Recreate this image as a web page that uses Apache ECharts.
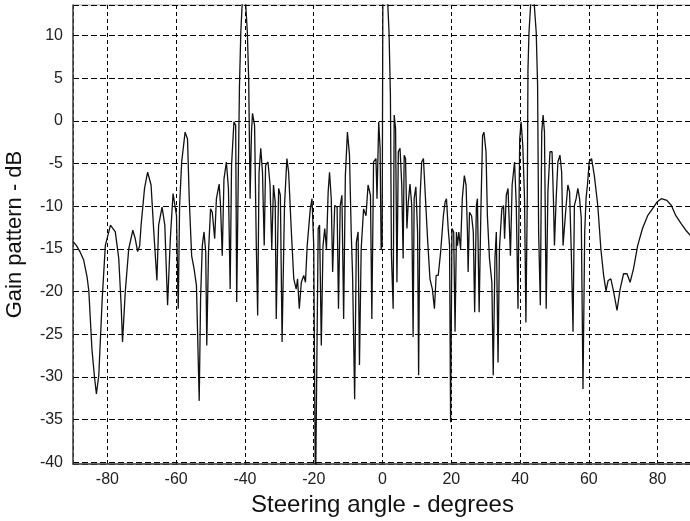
<!DOCTYPE html>
<html>
<head>
<meta charset="utf-8">
<script src="https://cdn.jsdelivr.net/npm/echarts@6/dist/echarts.min.js"></script>
<style>
  html, body { margin: 0; padding: 0; background: #fff; }
  #chart { width: 690px; height: 521px; }
</style>
</head>
<body>
<div id="chart"></div>
<script>
  // steering angle (degrees) and gain (dB)
  const angles = [
    -90, -89, -88, -86.9, -85.9, -85.4, -84.5, -83.8, -83.2, -82.5, -81.5, -80.6,
    -79.1, -77.7, -76.7, -76.0, -75.6, -74.8, -73.8, -72.6, -71.9, -71.2,
    -70.6, -70.2, -69.2, -68.3, -67.3, -66.5, -65.6, -65.1, -64.1, -63.3,
    -62.5, -61.7, -60.9, -59.9, -59.6, -59.4, -59.0, -58.4, -57.4, -56.7,
    -56.2, -55.5, -54.8, -54.1, -53.3, -52.9, -52.4, -51.9, -51.4, -51.1,
    -50.6, -50.0, -49.5, -48.8, -48.3, -47.5, -47.1, -46.6, -46.1, -45.4,
    -44.8, -44.3, -43.9, -43.2, -42.7, -42.4, -41.9, -41.6, -41.2, -40.8,
    -40.3, -39.8, -39.3, -38.9, -38.5, -38.1, -37.8, -37.2, -36.7, -36.3,
    -35.9, -35.4, -34.9, -34.4, -34.0, -33.3, -32.7, -32.2, -31.7, -31.2,
    -30.9, -30.2, -29.7, -29.2, -28.5, -27.8, -27.3, -26.5, -25.8, -25.1,
    -24.7, -24.2, -23.6, -22.9, -22.4, -21.9, -21.0, -20.5, -20.0, -19.7,
    -19.5, -19.2, -18.7, -18.3, -17.8, -17.3, -16.8, -16.3, -15.8, -15.4,
    -14.9, -14.5, -13.9, -13.2, -12.8, -12.3, -11.8, -11.3, -10.8, -10.2,
    -9.6, -9.1, -8.7, -8.1, -7.6, -7.1, -6.7, -6.2, -5.5, -4.8,
    -4.2, -3.5, -3.1, -2.6, -1.9, -1.6, -1.1, -0.7, -0.4, -0.1,
    0.1, 0.8, 1.5, 1.9, 2.3, 2.6, 3.1, 3.4, 3.8, 4.2,
    4.6, 5.1, 5.6, 6.0, 6.3, 6.7, 7.1, 7.5, 8.0, 8.5,
    8.9, 9.2, 9.7, 10.2, 10.5, 10.9, 11.4, 11.9, 12.5, 13.1,
    13.8, 14.5, 15.1, 15.6, 16.2, 16.9, 17.7, 18.2, 18.6, 19.1,
    19.5, 19.8, 20.2, 20.7, 21.1, 21.5, 21.8, 22.2, 22.7, 23.2,
    23.8, 24.3, 24.7, 24.9, 25.3, 25.9, 26.4, 26.8, 27.3, 27.6,
    28.1, 28.6, 29.1, 29.5, 30.1, 30.5, 31.1, 31.8, 32.2, 32.7,
    33.1, 33.6, 34.0, 34.7, 35.2, 35.5, 36.0, 36.5, 37.0, 37.2,
    37.7, 38.4, 38.9, 39.4, 39.9, 40.3, 40.8, 41.3, 41.7, 42.1,
    42.3, 42.6, 43.1, 43.6, 44.1, 44.7, 45.1, 45.4, 45.9, 46.3,
    46.7, 47.1, 47.6, 48.1, 48.7, 49.3, 49.7, 50.0, 50.5, 51.0,
    51.6, 52.1, 52.5, 52.9, 53.4, 53.9, 54.4, 54.9, 55.4, 55.8,
    56.3, 56.8, 57.3, 57.8, 58.3, 58.8, 59.2, 59.6, 60.1, 60.8,
    61.6, 62.6, 63.5, 64.3, 65.0, 65.6, 66.4, 67.2, 68.2, 69.1,
    70.1, 71.1, 72.0, 73.0, 74.2, 75.6, 77.1, 78.5, 79.8, 81.1,
    82.7, 84.0, 85.3, 86.8, 88.2, 89.5, 90
  ];
  const gainDb = [
    -14.1, -14.6, -15.3, -16.3, -18.3, -19.9, -26.7, -29.8, -32.0, -29.8, -20.8, -14.6,
    -12.2, -13.0, -16.1, -21.6, -25.9, -20.0, -15.0, -12.8, -13.8, -15.3,
    -14.6, -12.2, -7.9, -6.0, -7.5, -13.0, -18.7, -12.2, -10.1, -12.2,
    -21.6, -13.8, -8.5, -11.1, -17.7, -22.0, -9.9, -4.8, -1.3, -2.1,
    -9.1, -15.8, -17.3, -19.3, -32.8, -20.8, -14.6, -13.0, -15.4, -26.3,
    -15.4, -10.3, -10.7, -13.8, -9.1, -7.4, -9.9, -15.8, -6.8, -4.8,
    -7.9, -19.7, -5.2, -0.1, -0.5, -21.2, -5.2, 4.0, 10.4, 13.8,
    14.3, 13.8, 10.4, 4.6, -9.1, -1.3, 0.9, -0.5, -14.6, -22.8,
    -6.0, -3.2, -6.0, -14.6, -5.2, -4.8, -7.5, -15.0, -7.5, -9.5,
    -23.2, -7.9, -8.7, -25.9, -9.9, -4.4, -6.0, -13.0, -18.5, -19.7,
    -18.5, -22.0, -18.9, -18.1, -18.9, -14.6, -10.3, -9.1, -14.6, -32.6,
    -45.0, -32.6, -12.6, -12.2, -26.3, -14.6, -12.6, -15.0, -8.3, -6.0,
    -9.1, -17.7, -9.9, -10.1, -22.0, -9.9, -8.7, -23.2, -6.4, -1.3,
    -4.0, -13.0, -18.1, -32.6, -14.2, -13.0, -28.6, -15.0, -10.3, -11.1,
    -7.5, -8.7, -23.2, -4.8, -4.4, -9.1, -0.1, -3.2, -15.0, -14.5,
    14.0, 14.3, 14.0, 10.4, 3.0, -15.8, -22.0, 0.7, -0.9, -18.9,
    -3.6, -3.2, -7.5, -16.1, -4.0, -4.4, -12.6, -9.5, -7.4, -9.9,
    -25.3, -9.1, -7.7, -13.0, -29.8, -9.1, -4.8, -4.4, -9.1, -13.8,
    -18.5, -19.7, -22.0, -18.1, -18.1, -15.4, -11.1, -9.5, -9.1, -12.6,
    -14.6, -35.3, -12.6, -13.0, -24.7, -13.0, -14.6, -13.0, -15.0, -9.1,
    -6.4, -7.5, -13.0, -17.7, -10.7, -11.1, -13.0, -22.4, -9.9, -9.1,
    -22.4, -10.7, -1.7, -1.3, -3.6, -11.1, -16.1, -18.9, -29.8, -16.1,
    -13.0, -28.3, -15.0, -10.3, -9.9, -13.8, -8.7, -7.9, -7.9, -15.8,
    -7.5, -4.8, -9.9, -22.0, -2.1, -0.1, -2.9, -9.1, -23.6, -9.1,
    6.0, 10.4, 13.8, 14.3, 13.8, 10.4, 4.2, -13.0, -21.6, -1.3,
    0.7, -1.3, -22.0, -8.3, -3.6, -3.6, -9.1, -14.6, -9.1, -4.8,
    -4.0, -6.0, -14.6, -14.6, -9.9, -7.5, -8.3, -15.4, -24.7, -9.9,
    -9.1, -7.9, -9.1, -11.4, -31.4, -13.0, -9.0, -7.5, -4.8, -4.4,
    -6.4, -9.9, -15.0, -18.1, -19.9, -18.7, -18.5, -20.0, -22.2, -19.7,
    -17.9, -17.9, -18.9, -17.3, -14.6, -12.6, -11.1, -10.3, -9.5, -9.1,
    -9.3, -9.9, -11.1, -12.0, -12.8, -13.4, -13.7
  ];

  const xMin = -90, xMax = 90;
  const yMin = -40.2, yMax = 13.6;

  const chart = echarts.init(document.getElementById('chart'));
  const font = 'Liberation Sans, Arial, sans-serif';
  const dashX = { type: [4, 3], color: '#000', width: 1 };
  const dashY = { type: [6, 3], color: '#000', width: 1 };

  chart.setOption({
    backgroundColor: '#fff',
    animation: false,
    grid: {
      left: 73,
      right: -2,
      top: 5,
      bottom: 57,
      outerBoundsMode: 'none',
      containLabel: false,
      show: true,
      borderColor: '#aaa',
      borderWidth: 1
    },
    xAxis: {
      type: 'value',
      min: xMin,
      max: xMax,
      splitNumber: 9,
      name: 'Steering angle - degrees',
      nameLocation: 'middle',
      nameGap: 27,
      nameTextStyle: { fontFamily: font, fontSize: 24, color: '#111' },
      axisLine: { show: true, onZero: false, lineStyle: { color: '#444', width: 1.5 } },
      axisTick: { show: false },
      axisLabel: {
        fontFamily: font, fontSize: 16, color: '#222', margin: 8,
        showMinLabel: false, showMaxLabel: false
      },
      splitLine: { show: true, lineStyle: dashX }
    },
    yAxis: {
      type: 'value',
      min: yMin,
      max: yMax,
      splitNumber: 11,
      name: 'Gain pattern - dB',
      nameLocation: 'middle',
      nameGap: 47,
      nameTextStyle: { fontFamily: font, fontSize: 22, color: '#111' },
      axisLine: { show: true, onZero: false, lineStyle: { color: '#444', width: 1.5 } },
      axisTick: { show: false },
      axisLabel: {
        fontFamily: font, fontSize: 16, color: '#222', margin: 10,
        showMinLabel: false, showMaxLabel: false
      },
      splitLine: { show: true, lineStyle: dashY }
    },
    series: [
      {
        type: 'line',
        data: angles.map((a, i) => [a, gainDb[i]]),
        showSymbol: false,
        clip: true,
        lineStyle: { color: '#111', width: 1.3 }
      }
    ]
  });
</script>
</body>
</html>
